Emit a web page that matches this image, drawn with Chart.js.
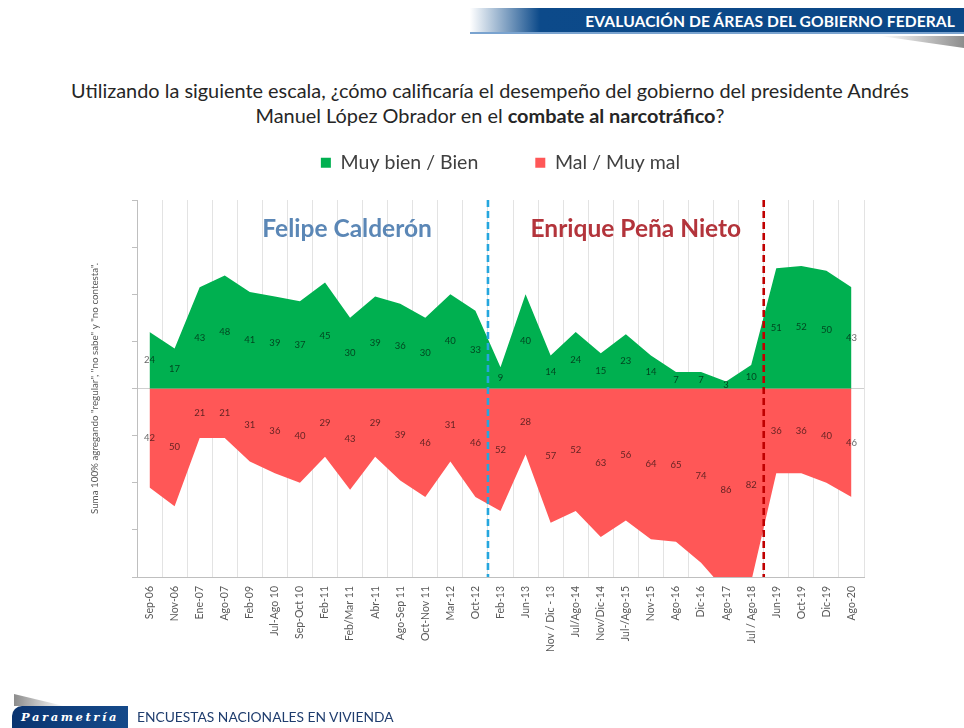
<!DOCTYPE html>
<html>
<head>
<meta charset="utf-8">
<script src="https://cdn.jsdelivr.net/npm/chart.js@4/dist/chart.umd.min.js"></script>
<style>
html,body{margin:0;padding:0;background:#fff;}
body{width:964px;height:728px;position:relative;overflow:hidden;font-family:Lato,"Open Sans",sans-serif;}
#c{position:absolute;left:0;top:0;}
.header{position:absolute;left:470px;top:8px;width:494px;height:26px;
  background:linear-gradient(to right, rgba(12,74,138,0) 0px, #0c4a8a 70px, #0b4786 100%);
  border-bottom:2px solid #7aa3cf;color:#fff;font-weight:bold;font-size:15.6px;line-height:26px;
  text-align:right;padding-right:9px;box-sizing:border-box;letter-spacing:0.1px;}
.shadow{position:absolute;left:880px;top:36px;width:84px;height:12px;
  background:linear-gradient(to right, rgba(150,150,150,0), #8d8d8d);
  clip-path:polygon(0 0,100% 0,100% 100%);}
.title{position:absolute;left:0px;width:980px;top:78px;text-align:center;font-size:19.9px;line-height:25px;color:#262626;}
.footer-swoosh{position:absolute;left:14px;top:694px;width:50px;height:12px;
  background:linear-gradient(to right,#8c8c8c,rgba(200,200,200,0));clip-path:polygon(0 0,100% 100%,0 100%);}
.logo{position:absolute;left:12px;top:706px;width:116px;height:22px;border-top-left-radius:10px;
  background:linear-gradient(to right,#0a3470,#154a8a);color:#fff;font-family:"DejaVu Serif",serif;
  font-style:italic;font-weight:bold;font-size:11.5px;line-height:22px;letter-spacing:2.6px;text-align:center;}
.footer-text{position:absolute;left:137px;top:708px;font-size:13.8px;color:#1f3d6e;}
</style>
</head>
<body>
<div class="header">EVALUACIÓN DE ÁREAS DEL GOBIERNO FEDERAL</div>
<div class="shadow"></div>
<div class="title">Utilizando la siguiente escala, ¿cómo calificaría el desempeño del gobierno del presidente Andrés<br>Manuel López Obrador en el <b>combate al narcotráfico</b>?</div>
<canvas id="c" width="964" height="728"></canvas>
<div class="footer-swoosh"></div>
<div class="logo">Parametría</div>
<div class="footer-text">ENCUESTAS NACIONALES EN VIVIENDA</div>
<script>
const categories = ['Sep-06','Nov-06','Ene-07','Ago-07','Feb-09','Jul-Ago 10','Sep-Oct 10','Feb-11','Feb/Mar 11','Abr-11','Ago-Sep 11','Oct-Nov 11','Mar-12','Oct-12','Feb-13','Jun-13','Nov / Dic - 13','Jul/Ago-14','Nov/Dic-14','Jul-/Ago-15','Nov-15','Ago-16','Dic-16','Ago-17','Jul / Ago-18','Jun-19','Oct-19','Dic-19','Ago-20'];
const muyBienBien = [24,17,43,48,41,39,37,45,30,39,36,30,40,33,9,40,14,24,15,23,14,7,7,3,10,51,52,50,43];
const malMuyMal = [42,50,21,21,31,36,40,29,43,29,39,46,31,46,52,28,57,52,63,56,64,65,74,86,82,36,36,40,46];
const seriesNames = ['Muy bien / Bien','Mal / Muy mal'];
const periodNames = ['Felipe Calderón','Enrique Peña Nieto'];
const periodBreaks = [13, 24]; // last category index of each period
const yTicks = [-80,-60,-40,-20,0,20,40,60,80];
const yAxisNote = 'Suma 100% agregando "regular", "no sabe" y "no contesta".';

Chart.defaults.font.family = 'Lato, "Open Sans", sans-serif';

const overlay = {
  id: 'overlay',
  afterDatasetsDraw(chart) {
    const ctx = chart.ctx, xs = chart.scales.x, ys = chart.scales.y, area = chart.chartArea;
    ctx.save();
    ctx.font = '9.5px Lato';
    ctx.textAlign = 'center';
    ctx.textBaseline = 'middle';
    ctx.fillStyle = 'rgba(0,0,0,0.62)';
    const y0 = ys.getPixelForValue(0);
    chart.data.datasets.forEach((ds, di) => {
      const raw = di === 0 ? muyBienBien : malMuyMal;
      ds.data.forEach((v, i) => {
        const x = xs.getPixelForValue(i);
        const y = (ys.getPixelForValue(v) + y0) / 2;
        ctx.fillText(String(raw[i]), x, y);
      });
    });
    ctx.restore();
    const colors = ['#25a6de', '#c00000'];
    periodBreaks.forEach((b, k) => {
      const x = (xs.getPixelForValue(b) + xs.getPixelForValue(b + 1)) / 2;
      ctx.save();
      ctx.strokeStyle = colors[k];
      ctx.lineWidth = 2.6;
      ctx.setLineDash([7, 4]);
      ctx.beginPath();
      ctx.moveTo(x, area.top);
      ctx.lineTo(x, area.bottom);
      ctx.stroke();
      ctx.restore();
    });
    ctx.save();
    ctx.font = 'bold 24.5px Lato';
    ctx.textAlign = 'center';
    ctx.textBaseline = 'middle';
    ctx.fillStyle = '#5b87b6';
    ctx.fillText(periodNames[0], xs.getPixelForValue(8) - 3, area.top + 29);
    ctx.fillStyle = '#b3343b';
    ctx.fillText(periodNames[1], xs.getPixelForValue(19) + 10, area.top + 29);
    ctx.restore();
  }
};

new Chart(document.getElementById('c'), {
  type: 'line',
  data: {
    labels: categories,
    datasets: [
      { label: seriesNames[0], data: muyBienBien, fill: 'origin', backgroundColor: '#00b050', borderWidth: 0, pointRadius: 0, tension: 0 },
      { label: seriesNames[1], data: malMuyMal.map(v => -v), fill: 'origin', backgroundColor: '#ff5757', borderWidth: 0, pointRadius: 0, tension: 0 }
    ]
  },
  options: {
    responsive: false,
    animation: false,
    events: [],
    layout: { padding: { left: 84, right: 100, top: 96, bottom: 0 } },
    plugins: {
      legend: {
        position: 'top',
        fullSize: false,
        labels: { boxWidth: 10, boxHeight: 10, padding: 57, color: '#404040', font: { size: 19.5 } }
      },
      title: { display: true, text: '', fullSize: false, weight: 500, padding: 0, font: { size: 17.5, lineHeight: 1 } },
      tooltip: { enabled: false }
    },
    scales: {
      x: {
        type: 'category',
        offset: true,
        grid: { display: true, offset: true, color: '#e3e3e3', drawTicks: false },
        border: { display: true, color: '#bfbfbf' },
        ticks: { autoSkip: false, maxRotation: 90, minRotation: 90, padding: 9, color: '#595959', font: { size: 10.5 } },
        afterFit(s) { s.height = 151; }
      },
      y: {
        min: -80, max: 80,
        afterBuildTicks(s) { s.ticks = yTicks.map(v => ({ value: v })); },
        ticks: { display: false },
        grid: {
          color: c => (c.tick && c.tick.value === 0) ? '#cfcfcf' : 'rgba(0,0,0,0)',
          tickColor: '#bfbfbf', tickLength: 5, drawTicks: true
        },
        border: { display: true, color: '#bfbfbf' },
        title: { display: true, text: yAxisNote, color: '#595959', font: { size: 9.8, lineHeight: 1.2 }, padding: { top: 5, bottom: 0 } },
        afterFit(s) { s.width = 53; }
      }
    }
  },
  plugins: [overlay]
});
</script>
</body>
</html>
